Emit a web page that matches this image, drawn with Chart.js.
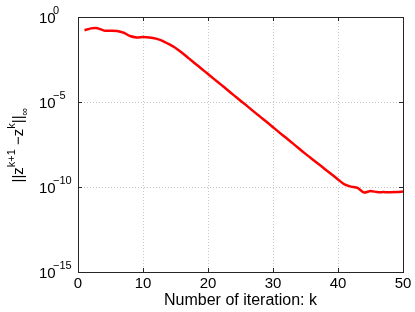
<!DOCTYPE html>
<html>
<head>
<meta charset="utf-8">
<script src="https://cdn.jsdelivr.net/npm/chart.js@4/dist/chart.umd.min.js"></script>
<style>
  html, body { margin: 0; padding: 0; background: #fff; }
</style>
</head>
<body>
<canvas id="myChart" width="415" height="312"></canvas>
<script>
// Iteration numbers and the residual ||z^{k+1} - z^k||_inf
const iterations = [1, 2, 3, 4, 5, 6, 7, 8, 9, 10,
  11, 12, 13, 14, 15, 16, 17, 18, 19, 20,
  21, 22, 23, 24, 25, 26, 27, 28, 29, 30,
  31, 32, 33, 34, 35, 36, 37, 38, 39, 40,
  41, 42, 43, 44, 45, 46, 47, 48, 49, 50];
const residual = [0.166, 0.214, 0.219, 0.158, 0.155, 0.151, 0.120, 0.0759, 0.0631, 0.0661,
  0.0631, 0.0537, 0.0398, 0.0251, 0.0151, 7.9e-3, 3.8e-3, 1.86e-3, 9.1e-4, 4.4e-4,
  2.14e-4, 1.05e-4, 5.1e-5, 2.45e-5, 1.2e-5, 5.9e-6, 2.8e-6, 1.38e-6, 6.8e-7, 3.3e-7,
  1.58e-7, 7.8e-8, 3.8e-8, 1.82e-8, 8.9e-9, 4.5e-9, 2.24e-9, 1.12e-9, 5.6e-10, 2.8e-10,
  1.41e-10, 1.05e-10, 8.9e-11, 4.7e-11, 5.8e-11, 5.0e-11, 5.0e-11, 4.9e-11, 5.0e-11, 5.4e-11];

// Tick labels
const xTicks = [0, 10, 20, 30, 40, 50];
const yTickExponents = [0, -5, -10, -15];

const FONT = '"Liberation Sans", Arial, Helvetica, sans-serif';

// Draws the MATLAB style box, inward ticks, 10^n labels and the y title
const matlabAxes = {
  id: 'matlabAxes',
  afterDraw(chart) {
    const ctx = chart.ctx;
    const a = chart.chartArea;
    const x = chart.scales.x;
    const y = chart.scales.y;
    ctx.save();

    // box round the plot
    ctx.strokeStyle = '#262626';
    ctx.lineWidth = 1;
    ctx.strokeRect(a.left + 0.5, a.top + 0.5, a.right - a.left, a.bottom - a.top);

    // small ticks pointing inside
    ctx.beginPath();
    xTicks.forEach(v => {
      const px = Math.round(x.getPixelForValue(v)) + 0.5;
      ctx.moveTo(px, a.bottom); ctx.lineTo(px, a.bottom - 4);
      ctx.moveTo(px, a.top); ctx.lineTo(px, a.top + 4);
    });
    yTickExponents.forEach(e => {
      const py = Math.round(y.getPixelForValue(Math.pow(10, e))) + 0.5;
      ctx.moveTo(a.left, py); ctx.lineTo(a.left + 4, py);
      ctx.moveTo(a.right, py); ctx.lineTo(a.right - 4, py);
    });
    ctx.stroke();

    // y tick labels as 10 with a raised exponent
    ctx.fillStyle = '#000';
    ctx.textAlign = 'left';
    ctx.textBaseline = 'alphabetic';
    yTickExponents.forEach(e => {
      const py = y.getPixelForValue(Math.pow(10, e));
      ctx.font = '15px ' + FONT;
      ctx.fillText('10', 39, py + 6);
      ctx.font = '11px ' + FONT;
      ctx.fillText(e === 0 ? '0' : '\u2212' + (-e), 53, py - 3);
    });

    // y title, rotated, with super- and subscripts
    const parts = [
      ['||z', 15, 0],
      ['k+1', 11, -8],
      [' \u2212z', 15, 0],
      ['k', 11, -8],
      ['||', 15, 0],
      ['\u221E', 11, 5]
    ];
    let total = 0;
    parts.forEach(p => {
      ctx.font = p[1] + 'px ' + FONT;
      total += ctx.measureText(p[0]).width;
    });
    ctx.translate(23, 145);
    ctx.rotate(-Math.PI / 2);
    let cx = -total / 2;
    parts.forEach(p => {
      ctx.font = p[1] + 'px ' + FONT;
      ctx.fillText(p[0], cx, p[2]);
      cx += ctx.measureText(p[0]).width;
    });
    ctx.restore();
  }
};

const ctx = document.getElementById('myChart');

new Chart(ctx, {
  type: 'line',
  data: {
    datasets: [{
      data: iterations.map((k, i) => ({ x: k, y: residual[i] })),
      borderColor: '#ff0000',
      borderWidth: 2.5,
      pointRadius: 0,
      tension: 0.2,
      fill: false
    }]
  },
  options: {
    responsive: false,
    animation: false,
    layout: {
      padding: { left: 0, top: 17, right: 12, bottom: 0 }
    },
    plugins: {
      legend: { display: false },
      tooltip: { enabled: false }
    },
    scales: {
      x: {
        type: 'linear',
        min: 0,
        max: 50,
        afterBuildTicks: scale => {
          scale.ticks = xTicks.map(v => ({ value: v }));
        },
        afterFit: scale => { scale.height = 40; },
        ticks: {
          color: '#000',
          padding: 3,
          font: { family: FONT, size: 15 },
          maxRotation: 0
        },
        grid: {
          drawTicks: false,
          color: c => (c.tick && (c.tick.value === 0 || c.tick.value === 50)) ? 'rgba(0,0,0,0)' : '#c4c4c4'
        },
        border: { display: false, dash: [1, 2] },
        title: {
          display: true,
          text: 'Number of iteration: k',
          color: '#000',
          font: { family: FONT, size: 16 },
          padding: { top: 0, bottom: 2 }
        }
      },
      y: {
        type: 'logarithmic',
        min: 1e-15,
        max: 1,
        afterBuildTicks: scale => {
          scale.ticks = yTickExponents.map(e => ({ value: Math.pow(10, e) }));
        },
        afterFit: scale => { scale.width = 78; },
        ticks: { display: false },
        grid: {
          drawTicks: false,
          color: c => (c.tick && (c.tick.value === 1 || c.tick.value === 1e-15)) ? 'rgba(0,0,0,0)' : '#c4c4c4'
        },
        border: { display: false, dash: [1, 2] }
      }
    }
  },
  plugins: [matlabAxes]
});
</script>
</body>
</html>
